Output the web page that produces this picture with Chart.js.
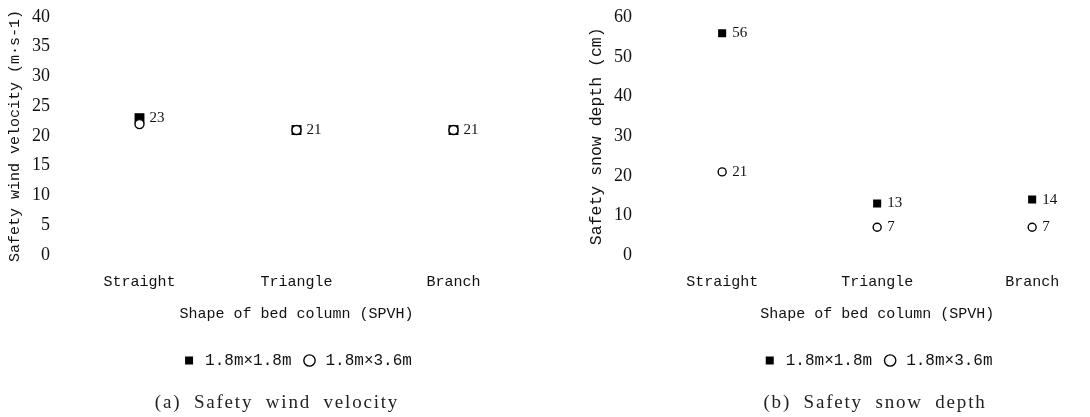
<!DOCTYPE html>
<html>
<head>
<meta charset="utf-8">
<script src="https://cdn.jsdelivr.net/npm/chart.js@4.4.0/dist/chart.umd.min.js"></script>
<style>
html, body { margin: 0; padding: 0; background: #fff; overflow: hidden; }
#wrap { position: relative; width: 1090px; height: 417px; overflow: hidden; }
#c1 { position: absolute; left: 0; top: 0; }
#c2 { position: absolute; left: 545px; top: 0; }
.cap { position: absolute; top: 391px; line-height: 22px; font-family: 'Liberation Serif', serif; font-size: 19px; letter-spacing: 1.8px; word-spacing: 6px; color: #222; white-space: nowrap; transform: translateX(-50%); }
</style>
</head>
<body>
<div id="wrap">
  <canvas id="c1" width="545" height="417"></canvas>
  <canvas id="c2" width="575" height="417"></canvas>
  <div class="cap" style="left:277px">(a) Safety wind velocity</div>
  <div class="cap" style="left:875px">(b) Safety snow depth</div>
</div>
<script>
// categories and series
var shapes = ["Straight", "Triangle", "Branch"];
var sizeNames = ["1.8m×1.8m", "1.8m×3.6m"];

var windSmall = [23, 21, 21];   // 1.8m x 1.8m
var windLarge = [22, 21, 21];   // 1.8m x 3.6m
var snowSmall = [56, 13, 14];
var snowLarge = [21, 7, 7];

var windTicks = { min: 0, max: 40, step: 5 };
var snowTicks = { min: 0, max: 60, step: 10 };

var mono = "'Liberation Mono', monospace";
var serif = "'Liberation Serif', serif";
var ink = "#111";

function toPoints(arr) {
  return arr.map(function (v, i) { return { x: i, y: v }; });
}

// writes the value next to each point
var valueLabels = {
  id: "valueLabels",
  afterDatasetsDraw: function (chart) {
    var ctx = chart.ctx;
    ctx.save();
    ctx.font = "15px " + serif;
    ctx.fillStyle = ink;
    ctx.textAlign = "left";
    ctx.textBaseline = "middle";
    chart.data.datasets.forEach(function (ds, i) {
      if (!ds.showValues) return;
      chart.getDatasetMeta(i).data.forEach(function (pt, j) {
        ctx.fillText(ds.data[j].y, pt.x + 10, pt.y);
      });
    });
    ctx.restore();
  }
};

function makeChart(id, cfg) {
  return new Chart(id, {
    type: "scatter",
    data: {
      datasets: [{
        label: sizeNames[0],
        data: toPoints(cfg.small),
        pointStyle: "rect",
        pointRadius: cfg.rectR,
        pointHoverRadius: cfg.rectR,
        backgroundColor: "#000",
        borderColor: "#000",
        borderWidth: 0,
        showValues: true,
        order: 1
      }, {
        label: sizeNames[1],
        data: toPoints(cfg.large),
        pointStyle: "circle",
        pointRadius: cfg.circR,
        pointHoverRadius: cfg.circR,
        backgroundColor: "#fff",
        borderColor: "#000",
        borderWidth: 1.4,
        showValues: cfg.labelLarge,
        order: 0
      }]
    },
    plugins: [valueLabels],
    options: {
      responsive: false,
      animation: false,
      devicePixelRatio: 1,
      events: [],
      layout: { padding: { top: cfg.padTop, right: cfg.padRight, bottom: 38.5, left: 0 } },
      scales: {
        x: {
          type: "linear",
          min: cfg.xMin,
          max: cfg.xMax,
          grid: { display: false, drawTicks: false },
          border: { display: false },
          afterBuildTicks: function (axis) {
            axis.ticks = shapes.map(function (s, i) { return { value: i }; });
          },
          ticks: {
            autoSkip: false,
            maxRotation: 0,
            padding: 18.5,
            color: ink,
            font: { family: mono, size: 15 },
            callback: function (v) { return shapes[v]; }
          },
          title: {
            display: true,
            text: "Shape of bed column (SPVH)",
            color: ink,
            font: { family: mono, size: 15 },
            padding: { top: -4.5, bottom: 19 }
          }
        },
        y: {
          min: cfg.ticks.min,
          max: cfg.ticks.max,
          grid: { display: false, drawTicks: false },
          border: { display: false },
          afterFit: function (axis) { axis.width = cfg.yWidth; },
          ticks: {
            stepSize: cfg.ticks.step,
            padding: cfg.tickPad,
            color: ink,
            font: { family: serif, size: 18, lineHeight: 0.3 }
          },
          title: {
            display: true,
            text: cfg.yTitle,
            color: ink,
            font: { family: mono, size: cfg.yTitleSize },
            padding: { top: cfg.yTitlePad, bottom: 0 }
          }
        }
      },
      plugins: {
        tooltip: { enabled: false },
        legend: {
          position: "bottom",
          fullSize: false,
          labels: {
            usePointStyle: true,
            boxHeight: 8,
            padding: 10,
            color: ink,
            font: { family: mono, size: 16 },
            sort: function (a, b) { return a.datasetIndex - b.datasetIndex; }
          }
        }
      }
    }
  });
}

makeChart("c1", {
  small: windSmall, large: windLarge, labelLarge: false,
  rectR: 7, circR: 4.5,
  xMin: -0.5, xMax: 2.5, padTop: 17, padRight: 13,
  ticks: windTicks, yWidth: 61, tickPad: 11,
  yTitle: "Safety wind velocity (m·s-1)", yTitleSize: 15, yTitlePad: 6
});

makeChart("c2", {
  small: snowSmall, large: snowLarge, labelLarge: true,
  rectR: 5.7, circR: 4,
  xMin: -0.53, xMax: 2.53, padTop: 17.5, padRight: 1,
  ticks: snowTicks, yWidth: 95, tickPad: 8,
  yTitle: "Safety snow depth (cm)", yTitleSize: 16.5, yTitlePad: 41.6
});
</script>
</body>
</html>
